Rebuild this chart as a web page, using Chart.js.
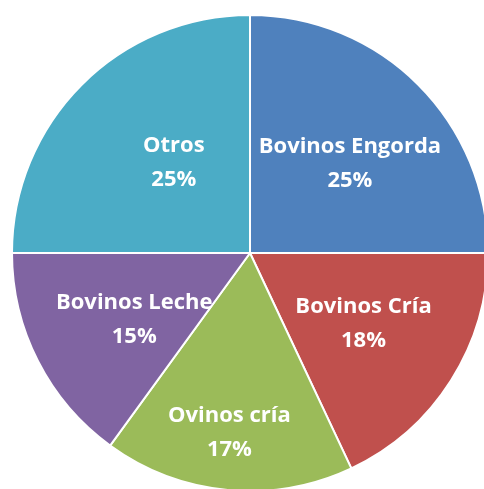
<!DOCTYPE html>
<html>
<head>
<meta charset="utf-8">
<script src="https://cdn.jsdelivr.net/npm/chart.js@4"></script>
<style>
  html, body { margin: 0; padding: 0; background: #fff; overflow: hidden; width: 484px; height: 489px; }
  #wrap { position: absolute; left: 11px; top: 14px; width: 478px; height: 478px; }
</style>
</head>
<body>
<div id="wrap"><canvas id="pieChart"></canvas></div>
<script>
// Chart data
const categories = ['Bovinos Engorda', 'Bovinos Cría', 'Ovinos cría', 'Bovinos Leche', 'Otros'];
const shares = [25, 18, 17, 15, 25];
const percentLabels = ['25%', '18%', '17%', '15%', '25%'];
const sliceColors = ['#4F81BD', '#C0504D', '#9BBB59', '#8064A2', '#4BACC6'];

// Draws the two-line labels inside each slice
const sliceLabels = {
    id: 'sliceLabels',
    afterDatasetsDraw(chart, args, opts) {
        const ctx = chart.ctx;
        const meta = chart.getDatasetMeta(0);
        ctx.save();
        ctx.fillStyle = '#fff';
        ctx.font = 'bold 22px "Open Sans", sans-serif';
        ctx.textAlign = 'center';
        ctx.textBaseline = 'middle';
        meta.data.forEach((arc, i) => {
            const mid = (arc.startAngle + arc.endAngle) / 2;
            const r = arc.outerRadius * opts.radius[i];
            const x = arc.x + Math.cos(mid) * r + opts.shiftX[i];
            const y = arc.y + Math.sin(mid) * r + opts.shiftY[i];
            ctx.fillText(categories[i], x, y - 17);
            ctx.fillText(percentLabels[i], x, y + 17);
        });
        ctx.restore();
    }
};

const ctx = document.getElementById('pieChart').getContext('2d');
new Chart(ctx, {
    type: 'pie',
    data: {
        labels: categories,
        datasets: [{
            data: shares,
            backgroundColor: sliceColors,
            borderColor: '#fff',
            borderWidth: 2
        }]
    },
    options: {
        responsive: true,
        maintainAspectRatio: false,
        animation: false,
        layout: { padding: 0 },
        plugins: {
            legend: { display: false },
            tooltip: { enabled: false },
            sliceLabels: {
                radius: [0.57, 0.56, 0.74, 0.56, 0.50],
                shiftX: [4, 1, -4, 3, 8],
                shiftY: [7, -1, 4, 6, -6]
            }
        }
    },
    plugins: [sliceLabels]
});
</script>
</body>
</html>
